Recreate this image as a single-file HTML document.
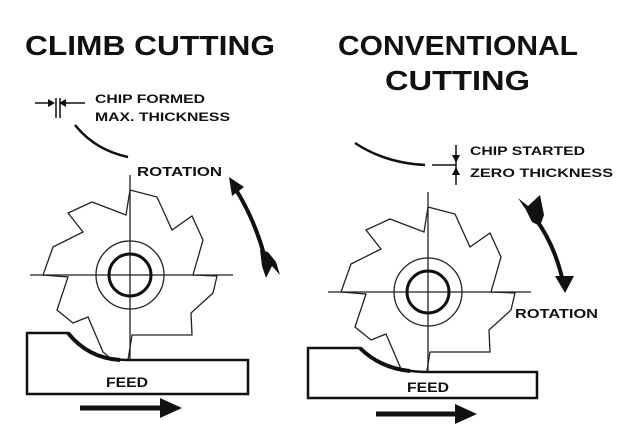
<!DOCTYPE html>
<html><head><meta charset="utf-8"><style>
body{margin:0;background:#fff;}
svg{display:block}
text{font-family:"Liberation Sans",sans-serif;font-weight:bold;fill:#111}
</style></head><body>
<svg width="623" height="442" viewBox="0 0 623 442">
<defs>
<g id="cut">
<polygon fill="#fff" stroke="#222" stroke-width="1.3" points="130,190 157,197 172,230 192,216 203,240 193,275 217,276 213,293 191,313 192,335 132,335 128,360 110,358 103,352 88,317 73,323 57,310 68,277 43,275 53,247 83,232 68,213 92,202 126,215"/>
<line x1="130" y1="175" x2="130" y2="362" stroke="#222" stroke-width="1.3"/>
<line x1="30" y1="275" x2="233" y2="275" stroke="#222" stroke-width="1.3"/>
<circle cx="130" cy="275" r="34" fill="none" stroke="#222" stroke-width="1.3"/>
<circle cx="130" cy="275" r="21" fill="none" stroke="#111" stroke-width="3"/>
</g>
</defs>
<text x="25" y="55" font-size="28" textLength="250" lengthAdjust="spacingAndGlyphs">CLIMB CUTTING</text>
<text x="338" y="55" font-size="28" textLength="240" lengthAdjust="spacingAndGlyphs">CONVENTIONAL</text>
<text x="385" y="90" font-size="28" textLength="145" lengthAdjust="spacingAndGlyphs">CUTTING</text>

<!-- left -->
<text x="95" y="103" font-size="12" textLength="110" lengthAdjust="spacingAndGlyphs">CHIP FORMED</text>
<text x="95" y="121" font-size="12" textLength="135" lengthAdjust="spacingAndGlyphs">MAX. THICKNESS</text>
<line x1="35" y1="103" x2="52" y2="103" stroke="#111" stroke-width="1.5"/>
<polygon points="55,103 48,99 48,107" fill="#111"/>
<line x1="62" y1="103" x2="85" y2="103" stroke="#111" stroke-width="1.5"/>
<polygon points="59,103 66,99 66,107" fill="#111"/>
<line x1="56" y1="98" x2="56" y2="118" stroke="#111" stroke-width="1.5"/>
<line x1="60" y1="98" x2="60" y2="118" stroke="#111" stroke-width="1.5"/>
<path d="M75,125 Q95,150 128,157" fill="none" stroke="#111" stroke-width="2.5"/>
<text x="137" y="176" font-size="13" textLength="85" lengthAdjust="spacingAndGlyphs">ROTATION</text>
<path d="M235,188 Q255,220 265,258" fill="none" stroke="#111" stroke-width="4"/>
<polygon points="229,177 244,187 232,196" fill="#111"/>
<polygon points="260,250 268,252 276,262 280,275 272,266 266,278 262,266" fill="#111"/>
<use href="#cut"/>
<path d="M27,333 L68,333 Q90,360 128,360 L248,360 L248,394 L27,394 Z" fill="#fff" stroke="#111" stroke-width="2.5"/>
<path d="M68,333 Q88,358 120,360" fill="none" stroke="#111" stroke-width="4"/>
<text x="106" y="387" font-size="14" textLength="42" lengthAdjust="spacingAndGlyphs">FEED</text>
<line x1="80" y1="408" x2="160" y2="408" stroke="#111" stroke-width="5"/>
<polygon points="182,408 160,398 160,418" fill="#111"/>

<!-- right -->
<text x="470" y="155" font-size="12" textLength="115" lengthAdjust="spacingAndGlyphs">CHIP STARTED</text>
<text x="470" y="177" font-size="12" textLength="143" lengthAdjust="spacingAndGlyphs">ZERO THICKNESS</text>
<path d="M355,143 Q385,163 425,165" fill="none" stroke="#111" stroke-width="2.5"/>
<line x1="432" y1="165" x2="456" y2="165" stroke="#111" stroke-width="1.5"/>
<line x1="456" y1="145" x2="456" y2="185" stroke="#111" stroke-width="1.5"/>
<polygon points="456,163 452,155 460,155" fill="#111"/>
<polygon points="456,167 452,175 460,175" fill="#111"/>
<path d="M535,218 Q555,245 563,282" fill="none" stroke="#111" stroke-width="4"/>
<polygon points="518,198 528,206 540,195 544,215 540,226 532,222 526,210" fill="#111"/>
<polygon points="555,276 574,276 565,293" fill="#111"/>
<text x="515" y="318" font-size="13" textLength="83" lengthAdjust="spacingAndGlyphs">ROTATION</text>
<use href="#cut" transform="translate(298,17)"/>
<path d="M308,348 L360,348 Q385,372 428,372 L537,372 L537,398 L308,398 Z" fill="#fff" stroke="#111" stroke-width="2.5"/>
<path d="M360,348 Q380,368 410,371" fill="none" stroke="#111" stroke-width="4"/>
<text x="407" y="392" font-size="14" textLength="42" lengthAdjust="spacingAndGlyphs">FEED</text>
<line x1="376" y1="414" x2="455" y2="414" stroke="#111" stroke-width="5"/>
<polygon points="477,414 455,404 455,424" fill="#111"/>
</svg>
</body></html>
